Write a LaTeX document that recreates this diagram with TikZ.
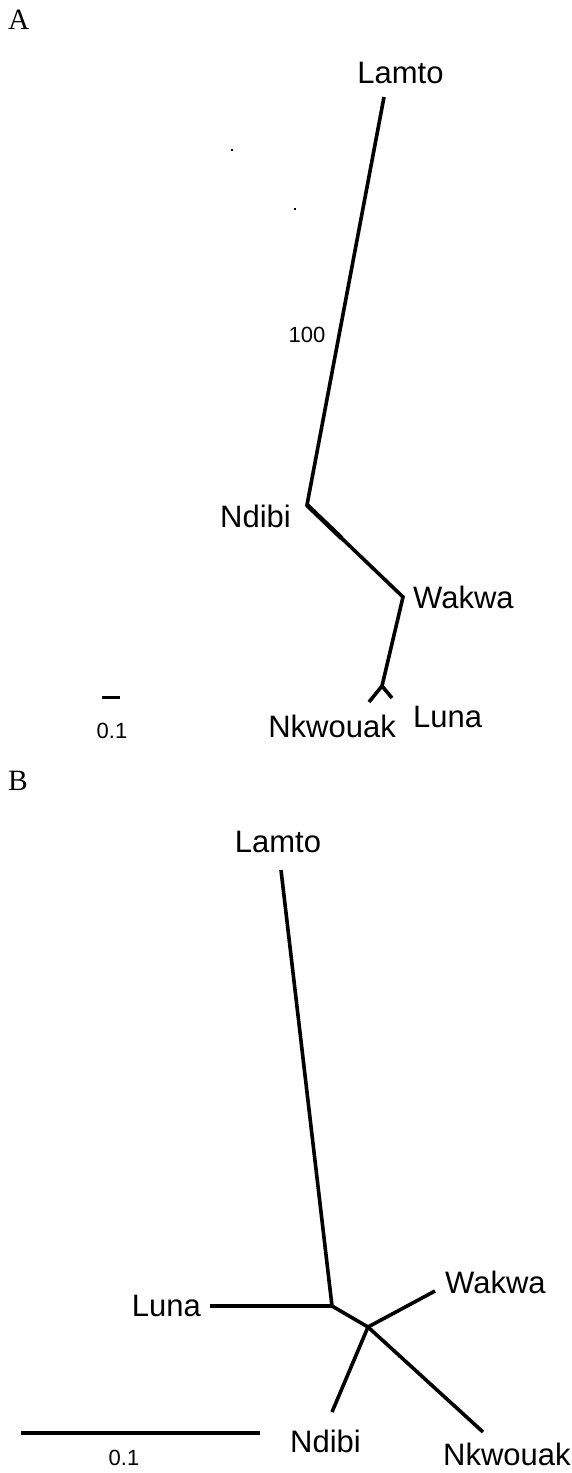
\documentclass[tikz,border=0pt]{standalone}
\usepackage{fontspec}
\usetikzlibrary{calc}
\setmainfont{Liberation Serif}
\newfontfamily\arialf{Liberation Sans}
\begin{document}
\begin{tikzpicture}[x=1pt,y=-1pt,
  branch/.style={line width=3.6pt, line cap=butt, line join=miter},
  taxon/.style={inner sep=0pt, font=\arialf\fontsize{31}{31}\selectfont},
  small/.style={inner sep=0pt, font=\arialf\fontsize{22}{22}\selectfont},
  panel/.style={inner sep=0pt, font=\fontsize{29.5}{29.5}\selectfont}]
\useasboundingbox (0,0) rectangle (572,1473);
\fill[white] (0,0) rectangle (572,1473);

% ---------- Panel A ----------
\node[panel, anchor=base west] (pA) at (8,29) {A};
\coordinate (aLamto) at (384,97);
\coordinate (aNdibi) at (307,505);
\coordinate (aWakwa) at (403,597);
\coordinate (aNdLeaf) at ($(aNdibi)!0.36!(aWakwa)$);
\coordinate (aFork)  at (382,686);
\coordinate (aNkw)   at (369,702);
\coordinate (aLuna)  at (392,698);
\draw[branch] (aLamto) -- (aNdibi) -- (aWakwa) -- (aFork);
\draw[line width=4.6pt] (aNdibi) -- (aNdLeaf);
\draw[branch] (aNkw) -- (aFork) -- (aLuna);

\node[taxon, anchor=base] (tALamto) at (400.5,83) {Lamto};
\node[small, anchor=base] (tA100) at (307,342) {100};
\node[taxon, anchor=base east] (tANdibi) at (291,527) {Ndibi};
\node[taxon, anchor=base west] (tAWakwa) at (413,608) {Wakwa};
\node[taxon, anchor=base east] (tANkw) at (396,737) {Nkwouak};
\node[taxon, anchor=base west] (tALuna) at (413,727) {Luna};

\fill (231,149) rectangle (233,151);
\fill (294,208) rectangle (296,210);

\coordinate (aSb1) at (102,697.5);
\coordinate (aSb2) at (120,697.5);
\draw[line width=3.6pt] (aSb1) -- (aSb2);
\node[small, anchor=base] (tAsc) at (112,738) {0.1};

% ---------- Panel B ----------
\node[panel, anchor=base west] (pB) at (8,790) {B};
\coordinate (bLamto) at (281,870);
\coordinate (bN1) at (332,1306);
\coordinate (bLuna) at (210,1306);
\coordinate (bN2) at (368,1327);
\coordinate (bWakwa) at (435,1291);
\coordinate (bNdibi) at (332,1412);
\coordinate (bNkw) at (483,1432);
\draw[branch] (bLamto) -- (bN1);
\draw[branch] (bLuna) -- (bN1) -- (bN2);
\draw[branch] (bN2) -- (bWakwa);
\draw[branch] (bN2) -- (bNdibi);
\draw[branch] (bN2) -- (bNkw);

\node[taxon, anchor=base] (tBLamto) at (278,852) {Lamto};
\node[taxon, anchor=base east] (tBLuna) at (201,1316) {Luna};
\node[taxon, anchor=base west] (tBWakwa) at (445,1293) {Wakwa};
\node[taxon, anchor=base] (tBNdibi) at (325.5,1452) {Ndibi};
\node[taxon, anchor=base west] (tBNkw) at (443,1465) {Nkwouak};

\coordinate (bSb1) at (21,1433);
\coordinate (bSb2) at (260,1433);
\draw[line width=3.6pt] (bSb1) -- (bSb2);
\node[small, anchor=base] (tBsc) at (124,1465) {0.1};
\end{tikzpicture}
\end{document}
